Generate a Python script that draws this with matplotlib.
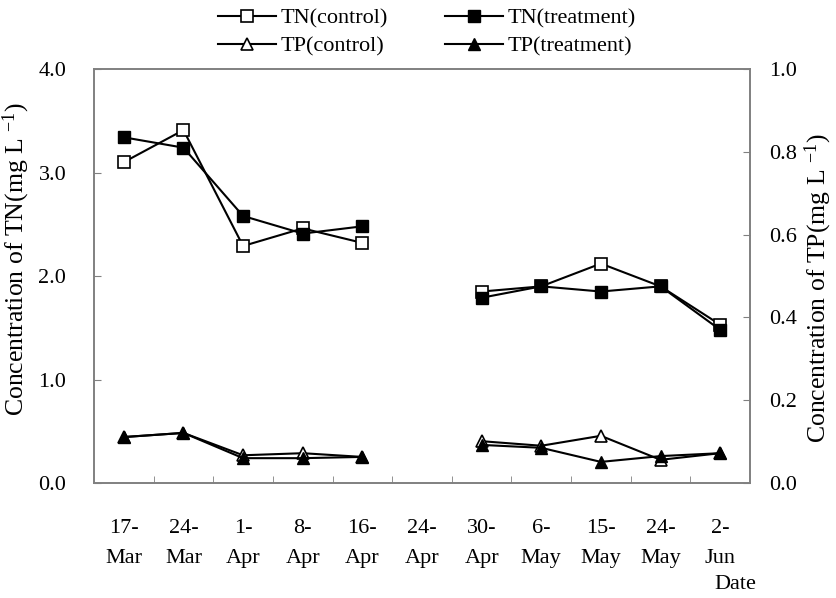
import numpy as np
import matplotlib
matplotlib.use('Agg')
import matplotlib.pyplot as plt

# dates (24-Apr has no sample)
dates = ['17-\nMar', '24-\nMar', '1-\nApr', '8-\nApr', '16-\nApr', '24-\nApr',
         '30-\nApr', '6-\nMay', '15-\nMay', '24-\nMay', '2-\nJun']
nan = np.nan
tn_control = [3.10, 3.41, 2.29, 2.46, 2.32, nan, 1.85, 1.90, 2.12, 1.90, 1.53]
tn_treatment = [3.34, 3.24, 2.58, 2.41, 2.48, nan, 1.79, 1.90, 1.85, 1.90, 1.48]
tp_control = [0.111, 0.121, 0.067, 0.072, 0.063, nan, 0.101, 0.090, 0.114, 0.056, 0.072]
tp_treatment = [0.111, 0.121, 0.060, 0.060, 0.063, nan, 0.092, 0.085, 0.051, 0.065, 0.072]

plt.rcParams['font.family'] = ['Liberation Serif', 'DejaVu Serif']
plt.rcParams['mathtext.fontset'] = 'custom'
plt.rcParams['mathtext.rm'] = 'Liberation Serif'
plt.rcParams['mathtext.it'] = 'Liberation Serif'

fig = plt.figure(figsize=(8.37, 5.98), dpi=100)
ax1 = fig.add_axes([0.1123, 0.1923, 0.7837, 0.6923])
ax2 = ax1.twinx()

x = np.arange(len(dates))
ms = 8
l1, = ax1.plot(x, tn_control, color='black', lw=1.5, marker='s', ms=ms,
               mfc='white', mec='black', mew=1.2, label='TN(control)')
l2, = ax1.plot(x, tn_treatment, color='black', lw=1.5, marker='s', ms=ms,
               mfc='black', mec='black', label='TN(treatment)')
l3, = ax2.plot(x, tp_control, color='black', lw=1.5, marker='^', ms=ms + 1,
               mfc='white', mec='black', mew=1.2, label='TP(control)')
l4, = ax2.plot(x, tp_treatment, color='black', lw=1.5, marker='^', ms=ms + 1,
               mfc='black', mec='black', label='TP(treatment)')

ax1.set_xlim(-0.5, len(dates) - 0.5)
ax1.set_ylim(0, 4.0)
ax2.set_ylim(0, 1.0)
ax1.set_yticks(np.arange(0, 4.01, 1.0))
ax1.set_yticklabels(['%.1f' % v for v in np.arange(0, 4.01, 1.0)])
ax2.set_yticks(np.arange(0, 1.01, 0.2))
ax2.set_yticklabels(['%.1f' % v for v in np.arange(0, 1.01, 0.2)])

ax1.set_xticks(x)
ax1.set_xticklabels(dates, fontsize=16, linespacing=1.75)
ax1.set_xticks(np.arange(0.5, len(dates) - 0.5, 1.0), minor=True)
ax1.tick_params(axis='x', which='major', length=0, pad=26)
ax1.tick_params(axis='x', which='minor', direction='in', length=5, color='grey')
ax1.tick_params(axis='y', direction='in', length=5, color='grey', labelsize=16, pad=20)
ax2.tick_params(axis='y', direction='in', length=5, color='grey', labelsize=16, pad=14)

for ax in (ax1, ax2):
    for s in ax.spines.values():
        s.set_color('grey')
        s.set_linewidth(1.2)

ax1.set_ylabel(r'Concentration of TN(mg L $^{-1}$)', fontsize=18.5)
ax1.yaxis.set_label_coords(-0.095, 0.54)
ax2.set_ylabel(r'Concentration of TP(mg L $^{-1}$)', fontsize=18.5)
ax2.yaxis.set_label_coords(1.08, 0.47)
fig.text(0.878, 0.006, 'Date', fontsize=16, ha='center', va='bottom')

fig.legend([l1, l3, l2, l4], ['TN(control)', 'TP(control)', 'TN(treatment)', 'TP(treatment)'],
           loc='upper center', bbox_to_anchor=(0.51, 1.02), ncol=2, frameon=False,
           fontsize=16, handlelength=2.6, columnspacing=2.6, labelspacing=0.35,
           handletextpad=0.2)

plt.savefig('out.png', dpi=100)
